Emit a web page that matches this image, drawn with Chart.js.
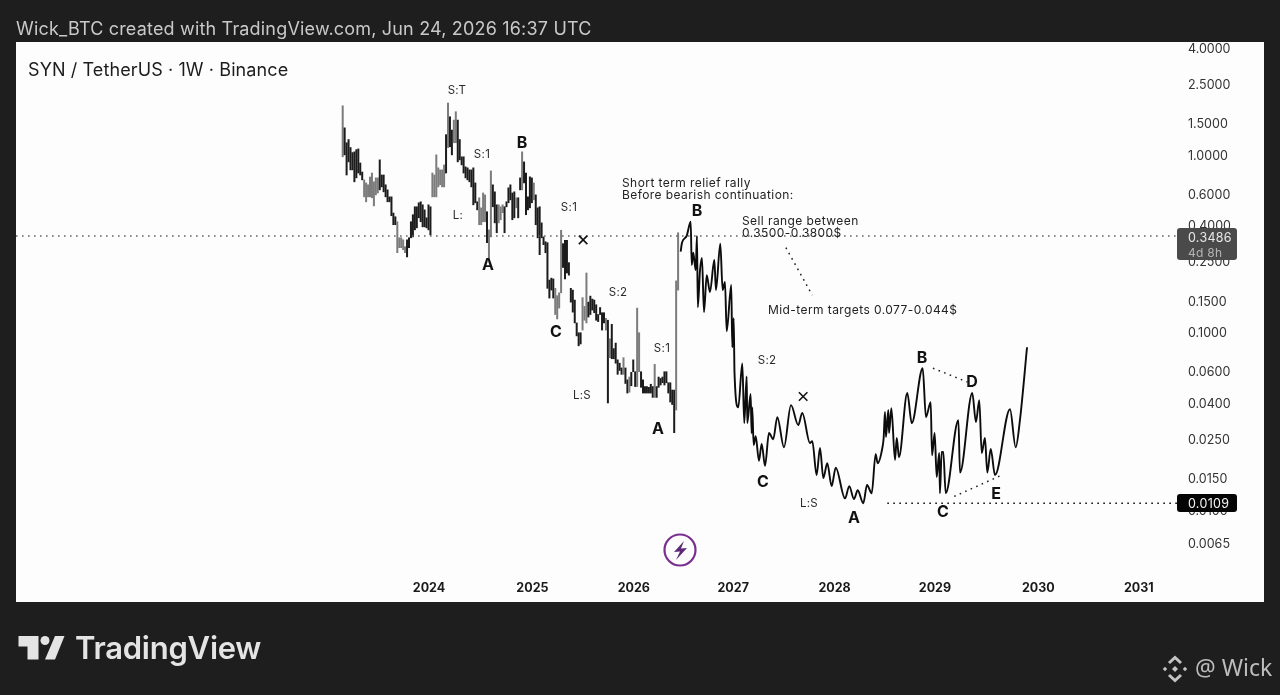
<!DOCTYPE html>
<html><head><meta charset="utf-8">
<style>html,body{margin:0;padding:0;background:#1e1e1e}canvas{display:block}</style>
<script src="https://cdn.jsdelivr.net/npm/chart.js@4"></script></head>
<body><canvas id="c" width="1280" height="695"></canvas>
<script>
const yearTicks=[2024,2025.02,2026.02,2027,2028,2028.99,2030.01,2031];
const priceTicks=[4,2.5,1.5,1,0.6,0.4,0.25,0.15,0.1,0.06,0.04,0.025,0.015,0.01,0.0065];
const firstWeek=2023.149, weekLength=1/52;
const barHigh=[1.89,1.42,1.17,1.22,1.10,1.03,1.04,1.07,1.08,0.90,0.80,0.723,0.695,0.678,0.75,0.79,0.705,0.742,0.742,0.937,0.77,0.77,0.678,0.635,0.58,0.58,0.47,0.448,0.42,0.341,0.341,0.332,0.304,0.332,0.341,0.42,0.46,0.51,0.51,0.537,0.544,0.523,0.49,0.442,0.523,0.51,0.79,0.77,1.00,0.845,0.823,0.823,0.878,1.30,1.96,1.64,1.38,1.57,1.75,1.57,1.22,0.975,0.975,0.856,0.845,0.823,0.823,0.845,0.695,0.544,0.573,0.503,0.61,0.595,0.478,0.378,0.812,0.678,0.619,0.523,0.523,0.51,0.523,0.51,0.544,0.652,0.678,0.61,0.619,0.573,0.573,0.742,1.04,0.913,0.79,0.58,0.752,0.742,0.695,0.595,0.503,0.51,0.414,0.345,0.324,0.32,0.197,0.202,0.20,0.177,0.161,0.167,0.376,0.316,0.33,0.33,0.247,0.177,0.173,0.152,0.113,0.0995,0.0995,0.157,0.14,0.216,0.148,0.16,0.154,0.152,0.143,0.126,0.138,0.129,0.129,0.12,0.117,0.092,0.111,0.081,0.087,0.07,0.067,0.063,0.072,0.063,0.054,0.056,0.0595,0.07,0.06,0.137,0.0995,0.06,0.054,0.0495,0.0495,0.049,0.051,0.0495,0.066,0.0495,0.056,0.055,0.056,0.06,0.06,0.052,0.052,0.0473,0.0473,0.195,0.364];
const barLow=[0.975,1.00,0.77,0.913,0.823,0.823,0.705,0.742,0.79,0.77,0.723,0.58,0.544,0.58,0.58,0.573,0.516,0.595,0.61,0.635,0.66,0.619,0.58,0.544,0.544,0.454,0.404,0.404,0.281,0.30,0.30,0.292,0.281,0.266,0.30,0.341,0.345,0.378,0.388,0.442,0.42,0.393,0.393,0.388,0.378,0.354,0.58,0.58,0.58,0.66,0.678,0.66,0.66,0.79,1.10,1.11,1.00,1.17,1.17,0.913,0.937,0.878,0.79,0.742,0.723,0.705,0.66,0.523,0.537,0.49,0.404,0.404,0.42,0.42,0.32,0.263,0.345,0.51,0.414,0.364,0.414,0.431,0.472,0.364,0.51,0.537,0.558,0.431,0.442,0.503,0.442,0.635,0.635,0.695,0.46,0.49,0.503,0.537,0.558,0.404,0.341,0.274,0.341,0.312,0.281,0.177,0.156,0.173,0.156,0.126,0.119,0.137,0.167,0.232,0.20,0.216,0.21,0.148,0.13,0.113,0.0955,0.084,0.086,0.103,0.117,0.113,0.122,0.126,0.1335,0.129,0.117,0.115,0.126,0.103,0.113,0.103,0.04,0.072,0.071,0.071,0.067,0.058,0.061,0.058,0.058,0.0515,0.0455,0.046,0.05,0.06,0.0495,0.0495,0.06,0.049,0.0455,0.0455,0.0455,0.0455,0.0455,0.043,0.043,0.043,0.049,0.0505,0.052,0.0505,0.052,0.0455,0.0405,0.0392,0.0272,0.0365,0.173];
const upWeeks=[1,12,13,14,15,16,17,18,19,29,30,31,32,33,47,48,49,50,51,52,53,55,58,59,71,72,73,74,76,77,81,82,83,90,93,99,110,111,112,113,124,125,126,136,138,145,148,152,153,161,172,173];
const pathYears=[2026.482,2026.495,2026.541,2026.581,2026.591,2026.606,2026.630,2026.643,2026.651,2026.673,2026.692,2026.712,2026.739,2026.771,2026.814,2026.830,2026.873,2026.896,2026.919,2026.936,2026.981,2026.991,2027.005,2027.013,2027.050,2027.090,2027.109,2027.133,2027.139,2027.172,2027.182,2027.188,2027.202,2027.222,2027.254,2027.281,2027.314,2027.353,2027.395,2027.435,2027.501,2027.570,2027.642,2027.681,2027.757,2027.780,2027.823,2027.856,2027.889,2027.928,2027.971,2028.011,2028.103,2028.145,2028.191,2028.228,2028.283,2028.320,2028.366,2028.405,2028.425,2028.471,2028.484,2028.497,2028.507,2028.530,2028.537,2028.560,2028.596,2028.613,2028.635,2028.717,2028.761,2028.869,2028.901,2028.948,2028.961,2028.987,2029.007,2029.032,2029.039,2029.056,2029.072,2029.096,2029.221,2029.237,2029.358,2029.394,2029.427,2029.451,2029.483,2029.506,2029.540,2029.582,2029.730,2029.786,2029.828,2029.898];
const pathPrices=[0.285,0.32,0.349,0.42,0.2397,0.281,0.2246,0.349,0.1386,0.2246,0.2625,0.13,0.21,0.1688,0.2557,0.1733,0.3155,0.1733,0.192,0.1015,0.1847,0.0824,0.1203,0.0593,0.0378,0.0668,0.0308,0.0565,0.0308,0.0449,0.027,0.0378,0.0232,0.026,0.0189,0.0235,0.0177,0.0271,0.025,0.0333,0.0225,0.0389,0.03,0.0352,0.0238,0.0244,0.0157,0.0223,0.0151,0.0183,0.0136,0.0173,0.0116,0.0136,0.0115,0.0129,0.0109,0.0138,0.0124,0.0206,0.0183,0.0223,0.0254,0.0356,0.0257,0.0365,0.0271,0.0374,0.0191,0.0254,0.0198,0.0455,0.0308,0.0628,0.0333,0.0404,0.0203,0.0271,0.0153,0.0209,0.0124,0.0212,0.0212,0.0124,0.032,0.0162,0.0455,0.0312,0.0415,0.0209,0.0254,0.0162,0.022,0.0157,0.0369,0.0225,0.032,0.0824];
const crossYears=[2025.52,2027.69];
const crossPrices=[0.332,0.0435];
const currentPrice=0.3486, supportPrice=0.0109;
const supportStartYear=2028.52;
const axisMinYear=2019.927, axisMaxYear=2031.377;
const axisMaxPrice=4.324, axisMinPrice=0.00435;
const noteLines=[
 {year:[2027.52,2027.78],price:[0.3,0.162]},
 {year:[2028.97,2029.31],price:[0.0628,0.0525]},
 {year:[2029.18,2029.65],price:[0.0119,0.0157]}
];
const words=[
 ["S:T",457,90],["S:1",482,154],["L:",458,215],["S:1",569,207],["S:2",618,292],["L:S",582,395],["S:1",662,348],["S:2",767,360],["L:S",809,503]];
const waves=[["B",522,142],["A",488,264],["C",556,331],["A",658,428],["B",697,210],["C",763,481],["A",854,517],["C",943,511],["B",922,357],["D",972,381],["E",996,493]];
const notes=[["Short term relief rally",622,182],["Before bearish continuation:",622,194],["Sell range between",742,220],["0.3500-0.3800$",742,232],["Mid-term targets 0.077-0.044$",768,309]];

const F='Inter, "Liberation Sans", sans-serif';
const bars=barHigh.map((h,i)=>({x:firstWeek+i*weekLength,y:[barLow[i],h]}));
const barColors=barHigh.map((h,i)=>upWeeks.includes(i+1)?'#7c7c7c':'#1c1c1c');
const xy=(xs,ys)=>xs.map((x,i)=>({x,y:ys[i]}));
const dotted=(data,color)=>({type:'line',data,borderColor:color,borderWidth:1.5,borderDash:[1.6,4.4],pointRadius:0,tension:0,fill:false});

const chrome={id:'chrome',
 beforeDraw(ch){const c=ch.ctx;c.save();
  c.fillStyle='#1e1e1e';c.fillRect(0,0,1280,695);
  c.fillStyle='#fdfdfd';c.fillRect(16,42,1248,560);
  c.restore();},
 afterDraw(ch){const c=ch.ctx;c.save();
  const put=(t,x,y,font,col,al='left',ls='0px')=>{c.font=font;c.fillStyle=col;c.textAlign=al;c.textBaseline='middle';c.letterSpacing=ls;c.fillText(t,x,y);c.letterSpacing='0px';};
  put('Wick_BTC created with TradingView.com, Jun 24, 2026 16:37 UTC',16,29.5,'400 18px '+F,'#c9c9c9','left','0.18px');
  put('SYN / TetherUS · 1W · Binance',28,70.5,'400 18px '+F,'#1c1c1c','left','0.1px');
  words.forEach(w=>put(w[0],w[1],w[2]+1,'400 11.5px '+F,'#2a2a2a','center','0.3px'));
  waves.forEach(w=>put(w[0],w[1],w[2]+1,'700 16px '+F,'#111','center'));
  notes.forEach(w=>put(w[0],w[1],w[2]+1,'400 12px '+F,'#222','left','0.42px'));
  // price boxes
  c.fillStyle='#4a4a4a';c.beginPath();c.roundRect(1177,228,60,32,3);c.fill();
  put('0.3486',1188,238,'400 12.5px '+F,'#e8e8e8','left','0.3px');
  put('4d 8h',1188,253,'400 12px '+F,'#b5b5b5','left','0.3px');
  c.fillStyle='#050505';c.beginPath();c.roundRect(1177,494,60,18,3);c.fill();
  put('0.0109',1188,504,'400 12.5px '+F,'#f5f5f5','left','0.3px');
  // purple badge
  c.strokeStyle='#7a2f8f';c.lineWidth=2.2;c.beginPath();c.arc(680,550,15.5,0,Math.PI*2);c.stroke();
  c.fillStyle='#5e2a78';c.beginPath();c.moveTo(684,541);c.lineTo(674,552);c.lineTo(680,551.5);c.lineTo(676,560);c.lineTo(687,548);c.lineTo(681,548.5);c.closePath();c.fill();
  // TradingView logo
  c.fillStyle='#e4e4e4';
  c.beginPath();c.moveTo(18.5,636);c.lineTo(38.5,636);c.lineTo(38.5,659.5);c.lineTo(27.5,659.5);c.lineTo(27.5,646.5);c.lineTo(18.5,646.5);c.closePath();c.fill();
  c.beginPath();c.arc(45,640.5,4.5,0,Math.PI*2);c.fill();
  c.beginPath();c.moveTo(55,636);c.lineTo(64.5,636);c.lineTo(55,659.5);c.lineTo(45,659.5);c.closePath();c.fill();
  put('TradingView',75,650,'600 31px '+F,'#e4e4e4','left','-0.25px');
  // watermark
  c.fillStyle='#c4c4c4';
  const dia=(x,y,r)=>{c.beginPath();c.moveTo(x,y-r);c.lineTo(x+r,y);c.lineTo(x,y+r);c.lineTo(x-r,y);c.closePath();c.fill();};
  dia(1175,669,3);dia(1165,669,2.2);dia(1185,669,2.2);
  c.strokeStyle='#c4c4c4';c.lineWidth=3;
  c.beginPath();c.moveTo(1169,663);c.lineTo(1175,657.5);c.lineTo(1181,663);c.stroke();
  c.beginPath();c.moveTo(1169,675);c.lineTo(1175,680.5);c.lineTo(1181,675);c.stroke();
  put('@ Wick',1195,669.5,'400 23px "Noto Sans", sans-serif','#bdbdbd');
  c.restore();}
};

new Chart(document.getElementById('c'),{
 type:'bar',
 data:{datasets:[
  {type:'bar',data:bars,backgroundColor:barColors,barThickness:1.35,grouped:false,order:3,borderWidth:0},
  {type:'line',data:xy(pathYears,pathPrices),borderColor:'#0c0c0c',borderWidth:1.9,pointRadius:0,cubicInterpolationMode:'monotone',fill:false,order:1},
  Object.assign(dotted([{x:axisMinYear,y:currentPrice},{x:axisMaxYear,y:currentPrice}],'#666'),{order:2}),
  Object.assign(dotted([{x:supportStartYear,y:supportPrice},{x:axisMaxYear,y:supportPrice}],'#111'),{order:2}),
  ...noteLines.map(n=>Object.assign(dotted(xy(n.year,n.price),'#222'),{order:2})),
  {type:'scatter',data:xy(crossYears,crossPrices),pointStyle:'crossRot',radius:6,borderWidth:1.6,borderColor:'#111',backgroundColor:'#111',order:1}
 ]},
 plugins:[chrome],
 options:{
  responsive:false,animation:false,devicePixelRatio:1,
  layout:{padding:{left:16,top:42,right:16,bottom:93}},
  plugins:{legend:{display:false},tooltip:{enabled:false}},
  scales:{
   x:{type:'linear',position:'bottom',min:axisMinYear,max:axisMaxYear,offset:false,
      grid:{display:false,drawTicks:false,offset:false},border:{display:false},
      afterFit(s){s.height=28;},
      afterBuildTicks(s){s.ticks=yearTicks.map(v=>({value:v}));},
      ticks:{autoSkip:false,maxRotation:0,padding:7,color:'#1a1a1a',font:{family:F,size:12.5,weight:'700'},callback:v=>String(Math.round(v))}},
   y:{type:'logarithmic',position:'right',min:axisMinPrice,max:axisMaxPrice,
      grid:{display:false,drawTicks:false},border:{display:false},
      afterFit(s){s.width=87;},
      afterBuildTicks(s){s.ticks=priceTicks.map(v=>({value:v}));},
      ticks:{autoSkip:false,padding:11,labelOffset:1,color:'#333',font:{family:F,size:12.5},callback:v=>Number(v).toFixed(4)}}
  }
 }
});
</script></body></html>
